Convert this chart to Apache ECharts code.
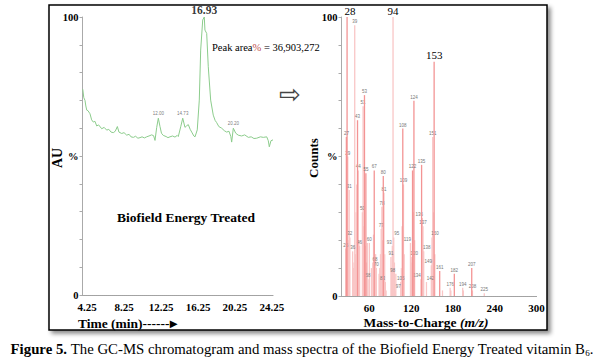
<!DOCTYPE html>
<html><head><meta charset="utf-8">
<script src="https://cdn.jsdelivr.net/npm/echarts@6/dist/echarts.min.js"></script>
<style>html,body{margin:0;padding:0;background:#fff}#c{width:602px;height:364px}</style>
</head><body><div id="c"></div><script>
// ---- Chromatogram (left) ----
const chromTime = [3.79,3.9,4.03,4.12,4.22,4.35,4.57,4.75,4.93,5.1,5.3,5.5,5.84,6.1,6.38,6.6,6.85,7.09,7.3,7.53,7.7,8.0,8.25,8.54,8.8,9.0,9.26,9.5,9.75,9.98,10.2,10.45,10.7,10.95,11.24,11.45,11.6,11.78,11.96,12.14,12.3,12.5,12.8,13.0,13.22,13.5,13.76,14.0,14.12,14.38,14.6,14.84,15.0,15.2,15.4,15.57,15.8,15.93,16.17,16.39,16.54,16.76,16.93,17.0,17.19,17.36,17.62,17.9,18.1,18.27,18.5,18.81,19.1,19.35,19.6,19.8,19.89,20.07,20.33,20.6,20.97,21.3,21.69,22.0,22.3,22.6,23.0,23.31,23.68,23.85,23.96,24.14,24.36];
const chromAU   = [74,71,70,68,66.5,66.3,65.2,63,62.2,62.5,60.8,61.2,59.8,60.3,59.3,59.6,58.6,58.4,58.9,60.6,58.6,58.1,58.4,57.5,57.8,56.9,56.7,57.1,56.4,56.6,56.9,56.5,56.9,57.2,57.6,57.3,55.6,60.2,63.6,60.6,58.2,57.4,57.0,56.6,56.9,57.2,56.8,57.4,57.0,60.5,63.6,60.3,60.8,61.3,59.6,58.6,57.2,56.9,59.4,70.1,88.1,98.9,100,95.3,94.1,82.1,70.1,64.7,62.8,62.0,60.6,60.0,59.1,58.6,58.9,57.0,55.0,60.0,58.2,57.5,57.2,57.6,56.7,56.9,56.3,56.4,56.9,56.7,56.9,55.5,53.3,55.5,55.8];
const minorPeakTime  = [11.96, 14.6, 20.07];
const minorPeakAU    = [63.6, 63.6, 60.0];
const minorPeakText  = ['12.00', '14.73', '20.20'];
const mainPeakTime = [16.93];
const mainPeakAU   = [100];
const mainPeakText = ['16.93'];
const timeTicks = [4.25, 8.25, 12.25, 16.25, 20.25, 24.25];

// ---- Mass spectrum (right) ----
const strongMz  = [27, 28, 43, 53, 55, 67, 80, 108, 122, 124, 135, 153, 161, 182, 207];
const strongInt = [57, 100, 63, 72, 44, 45, 43, 60, 45, 70, 47, 84, 9, 8, 10];
const weakMz  = [26,29,30,31,32,36,37,38,39,40,41,42,44,45,46,50,51,52,54,56,57,58,60,63,65,66,68,69,70,74,75,76,77,78,79,81,82,83,84,91,92,93,94,95,96,97,98,105,106,107,109,110,119,120,121,123,125,134,136,137,138,142,149,150,151,152,154,165,176,177,194,195,208,225];
const weakInt = [17,50,20,38,21,16,10,12,97,15,30,40,45,20,18,30,68,25,18,12,19,6,19,10,12,22,12,15,10,8,10,15,24,32,20,37,15,5,2,14,10,18,100,21,12,2,8,5,10,25,40,15,19,14,12,30,20,6,28,25,16,5,11,21,57,30,15,2,3,2,3,2,2,1];
const smallLabelMz = [26,27,29,31,32,36,39,43,44,46,50,51,53,55,58,60,67,68,70,77,78,80,81,83,91,93,95,97,98,105,108,109,119,120,122,124,134,135,136,137,138,142,149,150,151,161,176,182,194,207,208,225];
const bigLabelMz = [28, 94, 153];
const mzTicks = [60, 120, 180, 240, 300];

const SERIF = 'Liberation Serif, Times New Roman, serif';
// small horizontal nudges for crowded peak labels (px)
const labelNudge = { 134: -4, 142: 4, 136: -3, 138: 3, 149: -3, 150: 3, 119: -3, 120: 3, 93: -3, 95: 3, 97: 3, 98: -3, 83: -3, 84: 3 };

function barItems(mz, inten) {
  return mz.map((m, i) => {
    const item = { value: [m, inten[i]] };
    if (bigLabelMz.includes(m)) {
      item.label = { show: true, position: 'top', distance: 1, offset: m === 28 ? [3, 0] : [0, 0], fontSize: 11, fontFamily: SERIF, color: '#000', formatter: String(m) };
    } else if (smallLabelMz.includes(m)) {
      item.label = { show: true, position: 'top', distance: 1, offset: [labelNudge[m] || 0, 0], fontSize: 4.5, fontFamily: 'Arial, sans-serif', color: '#777', formatter: String(m) };
    }
    return item;
  });
}

const chart = echarts.init(document.getElementById('c'), null, { renderer: 'svg' });

const yLabelFmt = v => (v === 100 ? '100' : v === 50 ? '%' : v === 0 ? '0' : '');
const yAxisCommon = {
  type: 'value', min: 0, max: 100, interval: 10,
  axisLine: { show: true, lineStyle: { color: '#aaa', width: 1 } },
  axisTick: { show: true, length: 3, lineStyle: { color: '#aaa' } },
  splitLine: { show: false },
  axisLabel: { formatter: yLabelFmt, fontFamily: SERIF, fontWeight: 'bold', fontSize: 10.5, color: '#000', margin: 4 }
};
const xAxisCommon = {
  type: 'value',
  axisLine: { show: true, lineStyle: { color: '#999', width: 1, type: [1, 1] } },
  axisTick: { show: false },
  splitLine: { show: false },
  axisLabel: { fontFamily: SERIF, fontWeight: 'bold', fontSize: 11, color: '#000', margin: 6, showMinLabel: true, showMaxLabel: true }
};

chart.setOption({
  backgroundColor: '#fff',
  animation: false,
  grid: [
    { left: 82.5, top: 17, width: 190.5, height: 278 },
    { left: 341.5, top: 17, width: 195, height: 279 }
  ],
  xAxis: [
    Object.assign({}, xAxisCommon, { gridIndex: 0, min: 3.76, max: 24.36,
      axisLabel: Object.assign({}, xAxisCommon.axisLabel, { customValues: timeTicks, formatter: v => v.toFixed(2) }) }),
    Object.assign({}, xAxisCommon, { gridIndex: 1, min: 20, max: 300,
      axisLabel: Object.assign({}, xAxisCommon.axisLabel, { customValues: mzTicks }) })
  ],
  yAxis: [
    Object.assign({}, yAxisCommon, { gridIndex: 0 }),
    Object.assign({}, yAxisCommon, { gridIndex: 1 })
  ],
  series: [
    { type: 'line', xAxisIndex: 0, yAxisIndex: 0, showSymbol: false, symbol: 'none',
      data: chromTime.map((t, i) => [t, chromAU[i]]),
      lineStyle: { color: '#8ccc8c', width: 1 }, z: 3 },
    { type: 'scatter', xAxisIndex: 0, yAxisIndex: 0, symbolSize: 0,
      data: minorPeakTime.map((t, i) => ({ value: [t, minorPeakAU[i]], name: minorPeakText[i] })),
      label: { show: true, position: 'top', distance: 2, formatter: p => p.name, fontSize: 4.5, fontFamily: 'Arial, sans-serif', color: '#555' } },
    { type: 'scatter', xAxisIndex: 0, yAxisIndex: 0, symbolSize: 0,
      data: mainPeakTime.map((t, i) => ({ value: [t, mainPeakAU[i]], name: mainPeakText[i] })),
      label: { show: true, position: 'top', distance: 1, formatter: p => p.name, fontSize: 11.5, fontWeight: 'bold', fontFamily: SERIF, color: '#000' } },
    { type: 'bar', xAxisIndex: 1, yAxisIndex: 1, barWidth: 1.3, barGap: '-100%',
      data: barItems(weakMz, weakInt), itemStyle: { color: '#f9c6c6' }, z: 2 },
    { type: 'bar', xAxisIndex: 1, yAxisIndex: 1, barWidth: 1.3, barGap: '-100%',
      data: barItems(strongMz, strongInt), itemStyle: { color: '#f39494' }, z: 3 }
  ],
  graphic: [
    { type: 'rect', z: -1, shape: { x: 49, y: 5, width: 498, height: 325 },
      style: { fill: '#fff', stroke: '#000', lineWidth: 1.5, shadowBlur: 4, shadowOffsetX: 3, shadowOffsetY: 3, shadowColor: 'rgba(0,0,0,0.45)' } },
    { type: 'text', x: 57, y: 158, rotation: Math.PI / 2,
      style: { text: 'AU', fontFamily: SERIF, fontWeight: 'bold', fontSize: 14, fill: '#000', align: 'center', verticalAlign: 'middle' } },
    { type: 'text', x: 313, y: 158, rotation: Math.PI / 2,
      style: { text: 'Counts', fontFamily: SERIF, fontWeight: 'bold', fontSize: 13, fill: '#000', align: 'center', verticalAlign: 'middle' } },
    { type: 'text', x: 186, y: 217,
      style: { text: 'Biofield Energy Treated', fontFamily: SERIF, fontWeight: 'bold', fontSize: 13.5, fill: '#000', align: 'center', verticalAlign: 'middle' } },
    { type: 'text', x: 212, y: 47,
      style: { text: '{a|Peak area}{p|%}{a| = 36,903,272}', fill: '#000', verticalAlign: 'middle',
        rich: { a: { fontFamily: SERIF, fontSize: 10.5, fill: '#000' }, p: { fontFamily: SERIF, fontSize: 10.5, fill: '#c0504d' } } } },
    { type: 'text', x: 78, y: 323,
      style: { text: 'Time (min)------\u25B8', fontFamily: SERIF, fontWeight: 'bold', fontSize: 13.5, fill: '#000', verticalAlign: 'middle' } },
    { type: 'text', x: 426, y: 322,
      style: { text: '{a|Mass-to-Charge }{i|(m/z)}', fill: '#000', align: 'center', verticalAlign: 'middle',
        rich: { a: { fontFamily: SERIF, fontWeight: 'bold', fontSize: 13.5 }, i: { fontFamily: SERIF, fontWeight: 'bold', fontStyle: 'italic', fontSize: 13.5 } } } },
    { type: 'text', x: 290, y: 94,
      style: { text: '\u21E8', fontFamily: 'DejaVu Sans', fontSize: 26, fill: '#444', align: 'center', verticalAlign: 'middle' } },
    { type: 'text', x: 302, y: 349,
      style: { text: '{b|Figure 5.}{n| The GC-MS chromatogram and mass spectra of the Biofield Energy Treated vitamin B}{s|6}{n|.}',
        align: 'center', verticalAlign: 'middle', fill: '#000',
        rich: { b: { fontFamily: SERIF, fontWeight: 'bold', fontSize: 14.8, lineHeight: 17 }, n: { fontFamily: SERIF, fontSize: 14.8, lineHeight: 17 },
                s: { fontFamily: SERIF, fontSize: 9, verticalAlign: 'bottom', lineHeight: 13 } } } }
  ]
});
</script></body></html>
